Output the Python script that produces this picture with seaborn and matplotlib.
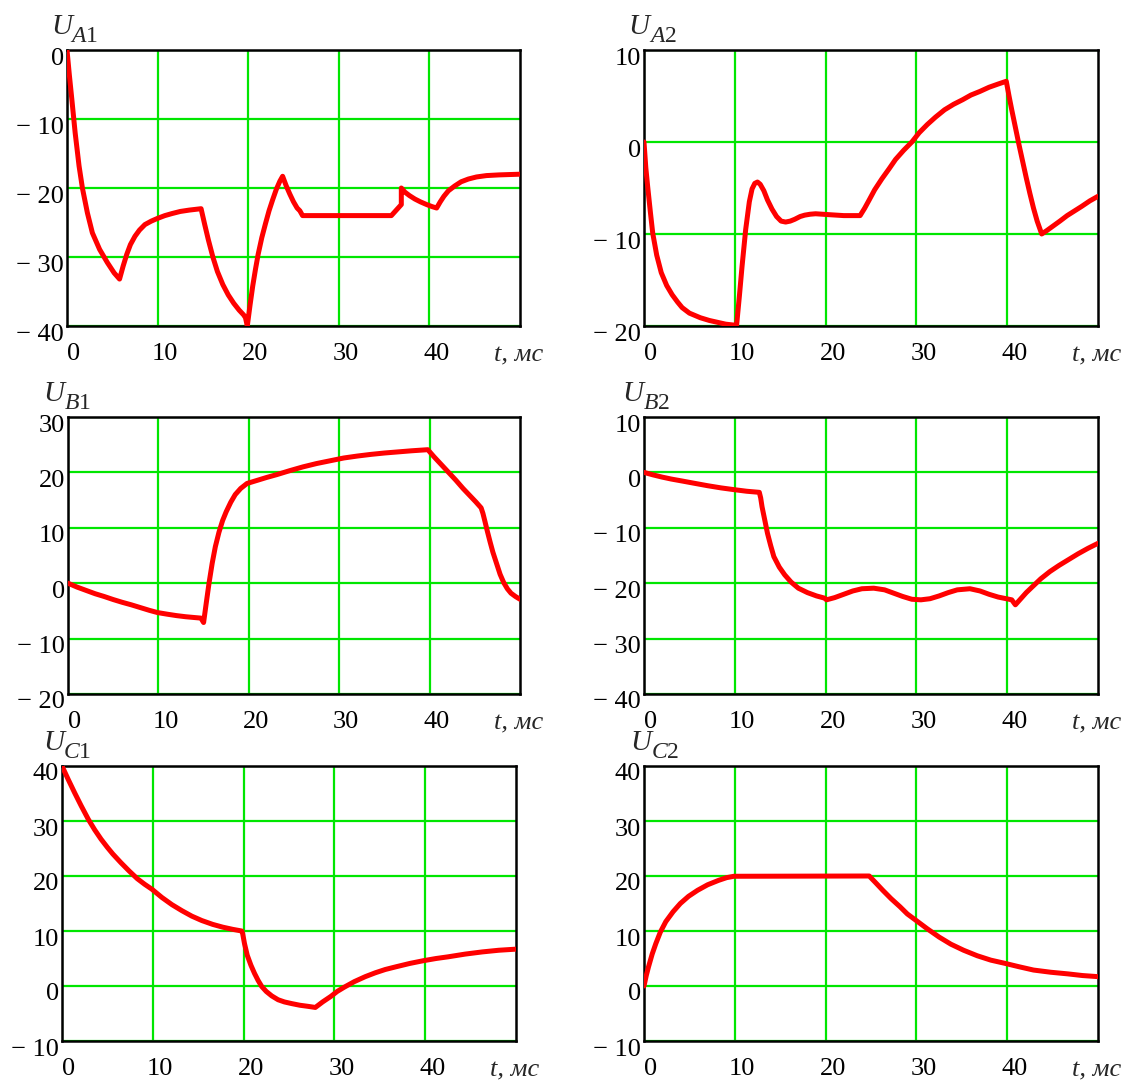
import matplotlib
matplotlib.use("Agg")
import matplotlib.pyplot as plt
import seaborn as sns
import numpy as np
from matplotlib.transforms import ScaledTranslation

# ---------------- data ----------------
A1_t = [0, 0.25, 0.53, 0.9, 1.33, 1.7, 2.25, 2.8, 3.6, 4.45, 5.2, 5.8,
        6.2, 6.6, 7.0, 7.5, 8.0, 8.6, 9.3, 10, 10.8, 11.6, 12.5, 13.5, 14.8,
        15.2, 15.6, 16.1, 16.6, 17.2, 17.8, 18.4, 19.0, 19.5, 19.7, 19.9,
        20.2, 20.5, 20.8, 21.1, 21.5, 21.9, 22.3, 22.7, 23.1, 23.5, 23.8,
        24.2, 24.6, 25.0, 25.4, 25.7, 26.0, 35.8, 36.9, 36.9,
        37.3, 37.8, 38.4, 39.0, 39.7, 40.3, 40.8,
        41.2, 41.6, 42.1, 42.8, 43.5, 44.3, 45.2, 46.3, 47.7, 50]
A1_v = [0, -3.5, -7.1, -12, -16.8, -20, -23.6, -26.5, -28.9, -30.8, -32.3, -33.2,
        -31.3, -29.6, -28.2, -27, -26.1, -25.3, -24.8, -24.4, -24.0, -23.7, -23.4, -23.2, -23.0,
        -25.3, -27.5, -30.0, -32.1, -34.0, -35.5, -36.7, -37.7, -38.4, -38.8, -40,
        -37, -34.2, -31.8, -29.6, -27.2, -25.2, -23.3, -21.7, -20.2, -19.0, -18.3,
        -19.7, -20.9, -22, -22.9, -23.3, -24, -24, -22.4, -20,
        -20.6, -21.1, -21.6, -22.0, -22.4, -22.7, -22.9,
        -22.0, -21.2, -20.4, -19.7, -19.1, -18.7, -18.4, -18.2, -18.1, -18.0]

A2_t = [0, 0.2, 0.4, 0.7, 0.96, 1.4, 1.9, 2.5, 3.1, 3.7, 4.2, 5.0, 6.2, 7.2, 8.1, 9.0,
        9.9, 10.2, 10.5, 10.8, 11.2, 11.6, 11.9, 12.2, 12.5, 12.8, 13.2, 13.6, 14.1,
        14.6, 15.1, 15.6, 16.1, 16.6, 17.2, 17.7, 18.3, 18.9, 20.4, 22, 23.8,
        24.3, 24.8, 25.4, 26.2, 27.0, 27.7, 28.6, 29.5, 30.3, 31.2, 32.1, 33.1, 34.1,
        35.1, 36.0, 37.0, 38.0, 39.0, 39.9,
        40.2, 40.5, 40.9, 41.3, 41.7, 42.1, 42.5, 42.9, 43.3, 43.8,
        44.4, 45.1, 45.8, 46.6, 47.4, 48.2, 49.1, 50]
A2_v = [0, -2.8, -4.8, -7.6, -9.9, -12.3, -14.2, -15.6, -16.6, -17.4, -18, -18.6, -19.1,
        -19.4, -19.6, -19.8, -19.9, -19.9, -16.8, -13.5, -9.5, -6.5, -5.1, -4.5, -4.35,
        -4.6, -5.3, -6.3, -7.3, -8.1, -8.6, -8.7, -8.6, -8.4, -8.1, -7.95, -7.85, -7.8,
        -7.9, -8.0, -8.0, -7.2, -6.3, -5.2, -4.0, -2.9, -1.9, -0.9, 0, 1.0, 1.9, 2.7, 3.5,
        4.1, 4.6, 5.1, 5.5, 5.95, 6.3, 6.6,
        5.0, 3.5, 1.6, -0.3, -2.1, -3.9, -5.6, -7.2, -8.6, -10,
        -9.6, -9.1, -8.6, -8.0, -7.5, -7.0, -6.4, -5.9]

B1_t = [0, 1, 2, 3, 4, 5, 6, 7, 8, 9, 9.9, 11, 12, 13, 14, 14.7, 15.0,
        15.3, 15.6, 15.95, 16.3, 16.7, 17.1, 17.5, 18.0, 18.5, 19.1, 19.8,
        21, 22, 23.1, 24.5, 26, 27.5, 29, 30.5, 32, 33.5, 35, 36.5, 38, 39.8,
        40.5, 41.3, 42.1, 42.9, 43.7, 44.4, 45.1, 45.7, 45.9, 46.1, 46.4, 46.7,
        47.0, 47.4, 47.8, 48.2, 48.6, 49, 49.5, 50]
B1_v = [0, -0.7, -1.3, -1.9, -2.4, -2.95, -3.45, -3.9, -4.4, -4.9, -5.3, -5.6, -5.85,
        -6.05, -6.2, -6.3, -7.1,
        -3.5, 0, 3.6, 6.6, 9.2, 11.3, 12.9, 14.6, 16, 17.1, 18,
        18.6, 19.1, 19.6, 20.3, 21.0, 21.6, 22.1, 22.6, 22.95, 23.25, 23.5, 23.7, 23.9, 24.1,
        22.8, 21.4, 20, 18.6, 17.1, 15.9, 14.7, 13.6, 12.6, 11.3, 9.3, 7.4,
        5.6, 3.6, 1.6, 0.1, -1.0, -1.8, -2.4, -2.9]

B2_t = [0, 1, 2, 3, 4.35, 5.5, 7, 8.5, 9.85, 11.3, 12.7,
        12.85, 13.0, 13.3, 13.6, 13.95, 14.3, 14.9, 15.5, 16.2, 17, 18, 19, 19.9, 20.1,
        21, 22, 23, 24, 25.3, 26.5, 27.5, 28.5, 29.5, 30.5, 31.5, 32.5, 33.5, 34.5,
        35.9, 37, 38, 39, 40.5, 40.9,
        41.5, 42.1, 42.8, 43.7, 44.7, 45.7, 46.7, 47.8, 48.9, 50]
B2_v = [0, -0.45, -0.85, -1.2, -1.6, -1.95, -2.4, -2.8, -3.1, -3.4, -3.6,
        -4.6, -6.2, -8.6, -11, -13.2, -15.2, -17.1, -18.5, -19.8, -20.9, -21.7, -22.3,
        -22.7, -23.0,
        -22.6, -22.0, -21.4, -21.0, -20.9, -21.2, -21.8, -22.4, -22.9, -23.0, -22.8,
        -22.3, -21.7, -21.2, -21.0, -21.4, -22.0, -22.5, -23.0, -23.9,
        -22.8, -21.7, -20.6, -19.2, -17.9, -16.8, -15.8, -14.7, -13.7, -12.8]

C1_t = [0, 0.7, 1.4, 2.1, 2.9, 3.6, 4.3, 5.0, 5.6, 6.5, 7.4, 8.3, 9.1, 9.9, 11, 12.1,
        13.2, 14.3, 15.4, 16.6, 17.7, 18.8, 19.8,
        19.9, 20.1, 20.4, 20.8, 21.2, 21.6, 22, 22.5, 23.1, 23.8, 24.5, 25.3, 26.2,
        27.1, 27.9,
        28.7, 29.6, 30.3, 31.1, 32.2, 33.4, 34.5, 35.6, 36.8, 38.3, 39.8, 41.2, 42.5,
        44.4, 46.3, 48.1, 50]
C1_v = [40, 37.5, 35.1, 32.8, 30.3, 28.4, 26.7, 25.2, 24, 22.4, 20.9, 19.5, 18.5, 17.6,
        16.1, 14.8, 13.7, 12.7, 11.9, 11.2, 10.7, 10.3, 10.0,
        9.5, 7.7, 5.6, 3.8, 2.3, 1.0, -0.1, -1.0, -1.8, -2.5, -2.9, -3.2, -3.5, -3.7,
        -3.9,
        -2.9, -1.9, -1.0, -0.2, 0.8, 1.7, 2.4, 3.0, 3.5, 4.1, 4.6, 5.0, 5.3, 5.8, 6.2,
        6.5, 6.7]

C2_t = [0, 0.25, 0.5, 0.9, 1.3, 1.8, 2.4, 3.2, 4, 4.9, 5.9, 7, 8.2, 9.1, 9.9, 24.8,
        25.5, 26.3, 27.2, 28.2, 29, 29.9, 31.2, 32.5, 33.8, 35.2, 36.7, 38.2, 39.8,
        41.3, 42.9, 44.8, 46.7, 48.3, 50]
C2_v = [0, 1.9, 3.5, 5.8, 7.7, 9.8, 11.7, 13.5, 15, 16.3, 17.4, 18.4, 19.2, 19.7, 19.95,
        20, 18.8, 17.4, 15.9, 14.4, 13.1, 12, 10.4, 8.9, 7.6, 6.5, 5.5, 4.7, 4.1, 3.5,
        2.9, 2.5, 2.2, 1.9, 1.7]

names = ["A1", "A2", "B1", "B2", "C1", "C2"]
times = [A1_t, A2_t, B1_t, B2_t, C1_t, C2_t]
values = [A1_v, A2_v, B1_v, B2_v, C1_v, C2_v]
y_ticks = [[0, -10, -20, -30, -40],
           [10, 0, -10, -20],
           [30, 20, 10, 0, -10, -20],
           [10, 0, -10, -20, -30, -40],
           [40, 30, 20, 10, 0, -10],
           [40, 30, 20, 10, 0, -10]]
x_ticks = [0, 10, 20, 30, 40]
x_unit = "t, мс"

# ---------------- style ----------------
sns.set_theme(style="white")
plt.rcParams["font.family"] = ["Liberation Serif", "DejaVu Serif"]
plt.rcParams["mathtext.fontset"] = "custom"
plt.rcParams["mathtext.rm"] = "Liberation Serif"
plt.rcParams["mathtext.it"] = "Liberation Serif:italic"

W, H = 1126, 1081
fig = plt.figure(figsize=(W / 100, H / 100), dpi=100)

# frame boxes in pixels: left, top, right, bottom
boxes = [(67, 50, 520, 326), (644, 50, 1098, 326),
         (68, 417, 520, 694), (644, 417, 1098, 694),
         (62, 766, 516, 1041), (644, 766, 1098, 1041)]
u_dx = [-16, -16, -25, -22, -19, -14]
s_dx = [3, 5, -4, -1, 1, 7]


def fmt(v):
    return f"\u2212 {abs(v)}" if v < 0 else f"{v}"


for i in range(6):
    l, t, r, b = boxes[i]
    ax = fig.add_axes([l / W, 1 - b / H, (r - l) / W, (b - t) / H])
    sns.lineplot(x=np.array(times[i]), y=np.array(values[i]), ax=ax, color="#ff0000",
                 linewidth=3.6, estimator=None, sort=False, zorder=3)
    yt = y_ticks[i]
    ax.set_xlim(0, 50)
    ax.set_ylim(min(yt), max(yt))
    ax.set_xticks(x_ticks)
    ax.set_xticklabels([fmt(v) for v in x_ticks])
    ax.set_yticks(yt)
    ax.set_yticklabels([fmt(v) for v in yt])
    ax.set_xlabel("")
    ax.set_ylabel("")
    ax.set_axisbelow(True)
    ax.grid(True, color="#00e600", linewidth=1.6)
    ax.tick_params(axis="both", length=0, labelsize=19, colors="black")
    ax.tick_params(axis="x", pad=12)
    ax.tick_params(axis="y", pad=2)
    for sp in ax.spines.values():
        sp.set_visible(True)
        sp.set_color("black")
        sp.set_linewidth(1.8)
    for lab in ax.get_xticklabels():
        lab.set_transform(lab.get_transform() + ScaledTranslation(7 / 100, 0, fig.dpi_scale_trans))
    for lab in ax.get_yticklabels():
        lab.set_transform(lab.get_transform() + ScaledTranslation(0, -6 / 100, fig.dpi_scale_trans))

    # axis title U_xx
    ax.annotate("U", xy=(0, 1), xycoords="axes fraction", xytext=(u_dx[i], 16),
                textcoords="offset pixels", ha="left", va="baseline",
                fontsize=21, style="italic")
    ax.annotate(r"$%s\mathrm{%s}$" % (names[i][0], names[i][1]), xy=(0, 1),
                xycoords="axes fraction", xytext=(s_dx[i], 8),
                textcoords="offset pixels", ha="left", va="baseline", fontsize=17)
    # x unit
    ax.annotate(x_unit, xy=(1, 0), xycoords="axes fraction", xytext=(-26, -35),
                textcoords="offset pixels", ha="left", va="baseline",
                fontsize=19, style="italic")

fig.savefig("out.png", dpi=100, facecolor="white")
